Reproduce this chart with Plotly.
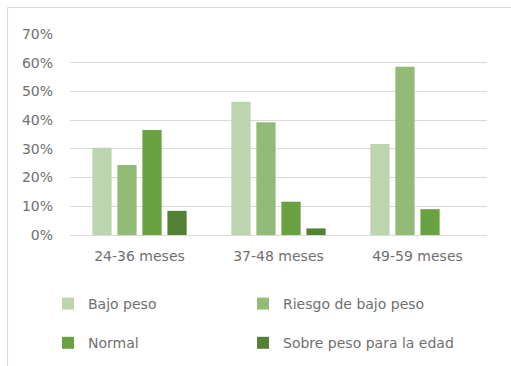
import plotly.graph_objects as go

categories = ["24-36 meses", "37-48 meses", "49-59 meses"]
series_names = ["Bajo peso", "Riesgo de bajo peso", "Normal", "Sobre peso para la edad"]
bajo_peso = [0.304, 0.464, 0.317]
riesgo_bajo_peso = [0.244, 0.393, 0.586]
normal = [0.366, 0.116, 0.090]
sobre_peso = [0.084, 0.023, 0.0]
y_ticks = [0, 0.1, 0.2, 0.3, 0.4, 0.5, 0.6, 0.7]
y_tick_labels = ["0%", "10%", "20%", "30%", "40%", "50%", "60%", "70%"]

colors = ["#bcd5ae", "#92bb78", "#6aa241", "#548235"]
values = [bajo_peso, riesgo_bajo_peso, normal, sobre_peso]
# two legend columns: left holds series 1 and 3, right holds series 2 and 4
legend_ids = ["legend", "legend2", "legend", "legend2"]

FONT = "DejaVu Sans"
TEXT_COLOR = "#6f6f6f"
GRID = "#d9d9d9"

fig = go.Figure()
for i, (name, vals, col, lg) in enumerate(zip(series_names, values, colors, legend_ids)):
    fig.add_trace(go.Bar(
        x=categories, y=vals, name=name, marker_color=col,
        marker_line_width=0, legend=lg, legendgroup=f"g{i}",
    ))

W, H = 511, 366
L, R, T, B = 70, 24, 34, 131
pw, ph = W - L - R, H - T - B

def px_x(px):
    return (px - L) / pw

def px_y(py):
    return (H - B - py) / ph

legend_common = dict(
    orientation="v", xanchor="left", yanchor="top",
    bgcolor="rgba(0,0,0,0)", tracegroupgap=18,
    font=dict(family=FONT, size=14, color=TEXT_COLOR), itemwidth=30,
    traceorder="grouped",
)

fig.update_layout(
    width=W, height=H,
    margin=dict(l=L, r=R, t=T, b=B, autoexpand=False),
    paper_bgcolor="white", plot_bgcolor="white",
    barmode="group", bargap=0.28, bargroupgap=0.23,
    font=dict(family=FONT, size=14, color=TEXT_COLOR),
    legend=dict(x=px_x(48), y=px_y(288), **legend_common),
    legend2=dict(x=px_x(243), y=px_y(288), **legend_common),
    xaxis=dict(
        showline=False, showgrid=False, zeroline=False,
        tickfont=dict(family=FONT, size=14, color=TEXT_COLOR),
        ticklabelstandoff=11,
    ),
    yaxis=dict(
        range=[0, 0.7], tickvals=y_ticks, ticktext=y_tick_labels,
        showgrid=True, gridcolor=GRID, gridwidth=1.3,
        zeroline=True, zerolinecolor=GRID, zerolinewidth=1.3,
        showline=False,
        tickfont=dict(family=FONT, size=14, color=TEXT_COLOR),
        ticklabelstandoff=16,
    ),
    shapes=[
        dict(type="line", xref="paper", yref="paper",
             x0=px_x(7.5), x1=px_x(W + 5), y0=px_y(7.5), y1=px_y(7.5),
             line=dict(color=GRID, width=1.2)),
        dict(type="line", xref="paper", yref="paper",
             x0=px_x(7.5), x1=px_x(7.5), y0=px_y(7.5), y1=px_y(H + 5),
             line=dict(color=GRID, width=1.2)),
    ],
)

fig.write_html("out.html")
